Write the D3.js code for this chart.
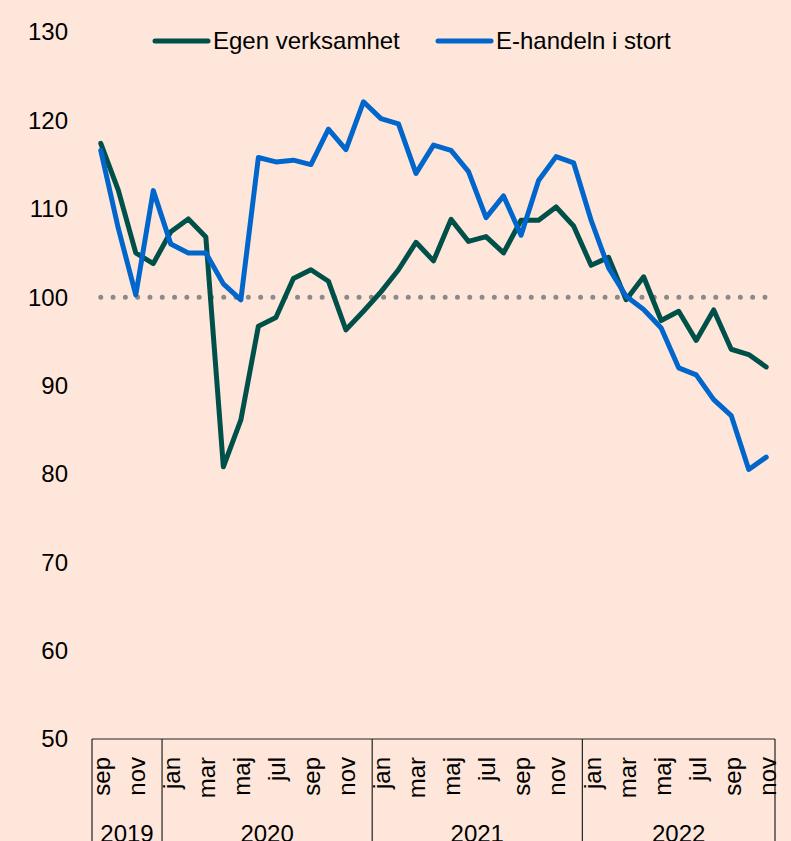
<!DOCTYPE html>
<html>
<head>
<meta charset="utf-8">
<script src="https://cdn.jsdelivr.net/npm/d3@7"></script>
<style>
  html, body { margin: 0; padding: 0; background: #fee7da; }
  svg { display: block; font-family: "Liberation Sans", Arial, sans-serif; }
</style>
</head>
<body>
<div id="chart"></div>
<script>
// monthly index, sep 2019 .. nov 2022
const months = ['sep', 'okt', 'nov', 'dec',
  'jan', 'feb', 'mar', 'apr', 'maj', 'jun', 'jul', 'aug', 'sep', 'okt', 'nov', 'dec',
  'jan', 'feb', 'mar', 'apr', 'maj', 'jun', 'jul', 'aug', 'sep', 'okt', 'nov', 'dec',
  'jan', 'feb', 'mar', 'apr', 'maj', 'jun', 'jul', 'aug', 'sep', 'okt', 'nov'];

const years = [
  { year: '2019', start: 0, end: 4 },
  { year: '2020', start: 4, end: 16 },
  { year: '2021', start: 16, end: 28 },
  { year: '2022', start: 28, end: 39 },
];

const egenVerksamhet = [117.4, 112.1, 105.0, 103.8,
  107.4, 108.85, 106.8, 80.8, 86.1, 96.7, 97.7, 102.1, 103.1, 101.8, 96.3, 98.4,
  100.6, 103.1, 106.2, 104.1, 108.8, 106.3, 106.85, 105.0, 108.7, 108.7, 110.2, 108.05,
  103.6, 104.5, 99.7, 102.3, 97.35, 98.4, 95.1, 98.55, 94.1, 93.5, 92.1];

const eHandeln = [116.6, 107.8, 100.25, 112.05,
  106.0, 105.0, 105.0, 101.5, 99.7, 115.8, 115.3, 115.5, 115.0, 119.0, 116.7, 122.1,
  120.2, 119.6, 114.0, 117.2, 116.6, 114.2, 109.0, 111.45, 107.0, 113.2, 115.9, 115.2,
  108.7, 103.3, 100.1, 98.6, 96.5, 92.0, 91.2, 88.4, 86.6, 80.5, 81.9];

const yTicks = [50, 60, 70, 80, 90, 100, 110, 120, 130];
const refLevel = 100;

const series = [
  { name: 'Egen verksamhet', values: egenVerksamhet, color: '#00504a' },
  { name: 'E-handeln i stort', values: eHandeln, color: '#0066cc' },
];

const W = 791, H = 841;
const svg = d3.select('#chart').append('svg')
  .attr('width', W)
  .attr('height', H);

svg.append('rect').attr('width', W).attr('height', H).attr('fill', '#fee7da');

const x = d3.scaleBand()
  .domain(d3.range(months.length))
  .range([92, 775])
  .padding(0);
const xc = i => x(i) + x.bandwidth() / 2;

const y = d3.scaleLinear().domain([50, 130]).range([739, 32]);

// y tick labels
svg.append('g')
  .selectAll('text')
  .data(yTicks)
  .enter()
  .append('text')
  .attr('x', 68)
  .attr('y', d => y(d))
  .attr('dy', '0.35em')
  .attr('text-anchor', 'end')
  .attr('font-size', '24px')
  .attr('fill', '#000')
  .text(d => d);

// dotted reference line at 100
svg.append('line')
  .attr('x1', xc(0))
  .attr('x2', xc(months.length - 1))
  .attr('y1', y(refLevel))
  .attr('y2', y(refLevel))
  .attr('stroke', '#8a8a8a')
  .attr('stroke-width', 5)
  .attr('stroke-linecap', 'round')
  .attr('stroke-dasharray', '0 12.3');

// category axis: top rule and year separators
const axisY = y(50);
const axis = svg.append('g').attr('stroke', '#222').attr('stroke-width', 1.2);
axis.append('line')
  .attr('x1', x(0)).attr('x2', x(months.length - 1) + x.bandwidth())
  .attr('y1', axisY).attr('y2', axisY);

const bounds = [0].concat(years.map(d => d.end));
axis.selectAll('.sep')
  .data(bounds)
  .enter()
  .append('line')
  .attr('class', 'sep')
  .attr('x1', d => d < months.length ? x(d) : x(months.length - 1) + x.bandwidth())
  .attr('x2', d => d < months.length ? x(d) : x(months.length - 1) + x.bandwidth())
  .attr('y1', axisY)
  .attr('y2', H);

// month labels, every second month
svg.append('g')
  .selectAll('text')
  .data(months.map((m, i) => ({ m, i })).filter(d => d.i % 2 === 0))
  .enter()
  .append('text')
  .attr('transform', d => `translate(${xc(d.i) + 1},757) rotate(-90)`)
  .attr('dy', '0.35em')
  .attr('text-anchor', 'end')
  .attr('font-size', '24px')
  .attr('fill', '#000')
  .text(d => d.m);

// year labels
svg.append('g')
  .selectAll('text')
  .data(years)
  .enter()
  .append('text')
  .attr('x', d => (x(d.start) + x(d.end - 1) + x.bandwidth()) / 2)
  .attr('y', 842)
  .attr('text-anchor', 'middle')
  .attr('font-size', '24px')
  .attr('fill', '#000')
  .text(d => d.year);

// lines
const line = d3.line()
  .x((d, i) => xc(i))
  .y(d => y(d));

svg.selectAll('.series')
  .data(series)
  .enter()
  .append('path')
  .attr('class', 'series')
  .attr('d', d => line(d.values))
  .attr('fill', 'none')
  .attr('stroke', d => d.color)
  .attr('stroke-width', 5)
  .attr('stroke-linejoin', 'round')
  .attr('stroke-linecap', 'round');

// legend
const legendPos = [155, 438];
const legend = svg.selectAll('.legend')
  .data(series)
  .enter()
  .append('g')
  .attr('class', 'legend')
  .attr('transform', (d, i) => `translate(${legendPos[i]},41)`);

legend.append('line')
  .attr('x1', 0).attr('x2', 53)
  .attr('stroke', d => d.color)
  .attr('stroke-width', 5)
  .attr('stroke-linecap', 'round');

legend.append('text')
  .attr('x', 58)
  .attr('dy', '0.35em')
  .attr('font-size', '24px')
  .attr('fill', '#000')
  .text(d => d.name);
</script>
</body>
</html>
